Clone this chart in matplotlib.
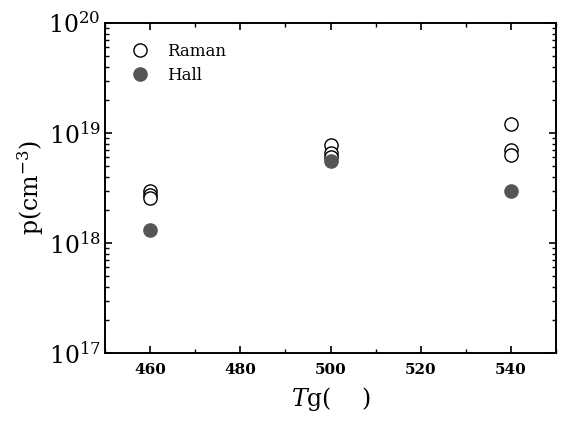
import numpy as np
import matplotlib
matplotlib.use('Agg')
import matplotlib.pyplot as plt
from matplotlib.ticker import LogLocator, MultipleLocator, NullFormatter

plt.rcParams['font.family'] = 'DejaVu Serif'
plt.rcParams['mathtext.fontset'] = 'dejavuserif'

# Growth temperature and hole concentration
tg_raman = [460, 460, 460, 500, 500, 500, 540, 540, 540]
p_raman = [3.0e18, 2.75e18, 2.55e18, 7.8e18, 6.6e18, 6.05e18, 1.21e19, 7.0e18, 6.3e18]
tg_hall = [460, 500, 540]
p_hall = [1.3e18, 5.55e18, 2.95e18]

fig = plt.figure(figsize=(5.64, 4.23), dpi=100)
ax = fig.add_axes([0.186, 0.1655, 0.8, 0.78])

ax.plot(tg_raman, p_raman, 'o', mfc='white', mec='black', mew=1.0, ms=9.5,
        label='Raman')
ax.plot(tg_hall, p_hall, 'o', mfc='#555555', mec='#555555', ms=9.5,
        label='Hall')

ax.set_yscale('log')
ax.set_xlim(450, 550)
ax.set_ylim(1e17, 1e20)

ax.xaxis.set_major_locator(MultipleLocator(20))
ax.xaxis.set_minor_locator(MultipleLocator(10))
ax.yaxis.set_major_locator(LogLocator(base=10, numticks=10))
ax.yaxis.set_minor_locator(LogLocator(base=10, subs=np.arange(2, 10), numticks=10))
ax.yaxis.set_minor_formatter(NullFormatter())

ax.tick_params(which='both', direction='in', top=True, right=True)
ax.tick_params(which='major', length=5, width=1.2)
ax.tick_params(which='minor', length=3, width=1.0)
ax.tick_params(axis='x', labelsize=11, pad=7)
ax.tick_params(axis='y', labelsize=17, pad=3)
for lab in ax.get_xticklabels():
    lab.set_fontweight('bold')
for s in ax.spines.values():
    s.set_linewidth(1.4)

ax.set_xlabel('$T$g(    )', fontsize=17, labelpad=6)
ax.set_ylabel('p(cm$^{-3}$)', fontsize=17, labelpad=2)

ax.legend(loc='upper left', frameon=False, fontsize=12, handletextpad=0.6,
          borderaxespad=0.6, labelspacing=0.4, bbox_to_anchor=(0.005, 0.99))

fig.savefig('out.png', dpi=100)
